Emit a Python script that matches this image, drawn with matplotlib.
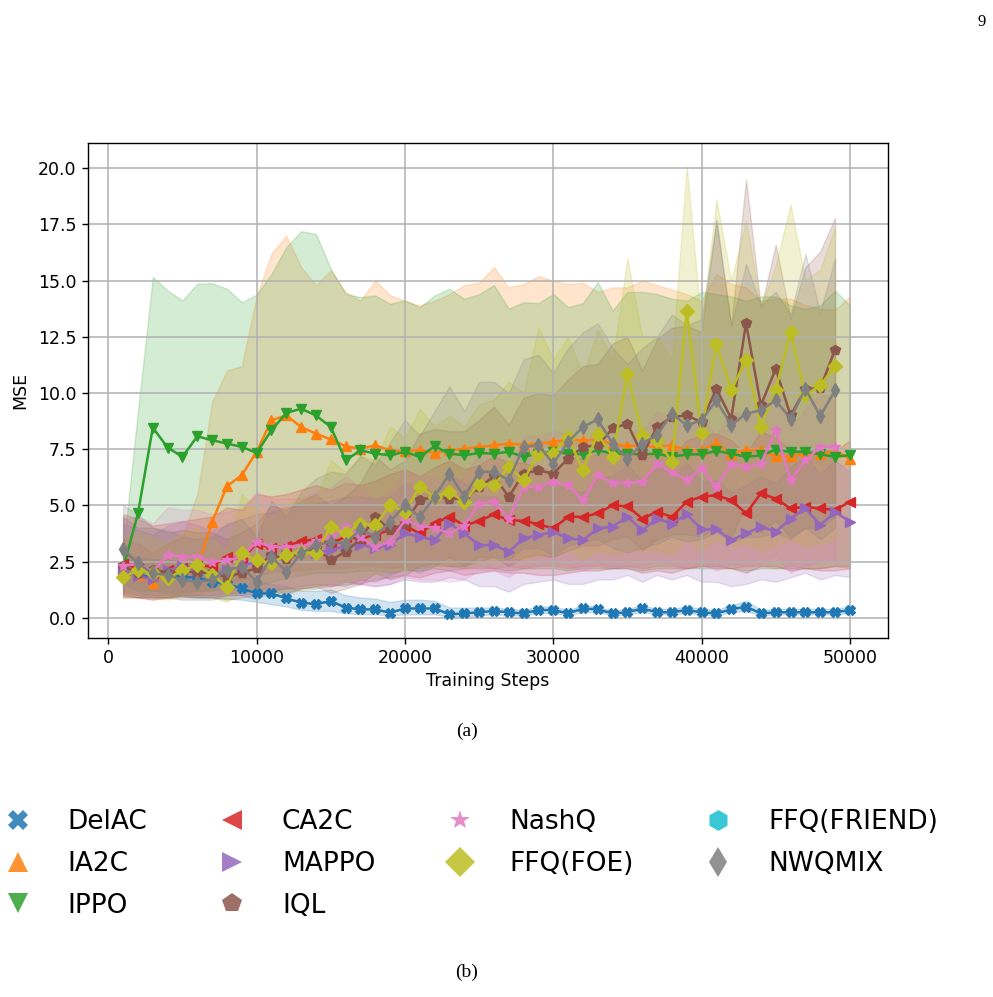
import numpy as np
import matplotlib
matplotlib.use("Agg")
import matplotlib.pyplot as plt
from matplotlib.lines import Line2D

# ---------------- data ----------------
steps50 = [1000 * k for k in range(1, 51)]
steps49 = [1000 * k for k in range(1, 50)]

delac_mean = [2.0,1.9,1.8,1.9,1.8,1.8,1.6,1.5,1.3,1.08, 1.08,0.86,0.67,0.6,0.74,0.45,0.37,0.37,0.22,0.41,
              0.41,0.41,0.15,0.19,0.24, 0.3,0.24,0.19,0.34,0.34, 0.19,0.41,0.37,0.19,0.24,
              0.41,0.24,0.24,0.34,0.24, 0.19,0.37,0.49,0.19,0.24, 0.24,0.24,0.24,0.24,0.34]
delac_lo = [1.2,1.1,1.0,1.0,0.95,0.9,0.9,0.85,0.8,0.7, 0.6,0.5,0.35,0.3,0.3,0.2,0.15,0.15,0.1,0.15,
            0.15,0.15,0.05,0.05,0.1, 0.15,0.1,0.1,0.2,0.2, 0.1,0.25,0.25,0.1,0.15,
            0.25,0.15,0.15,0.2,0.15, 0.1,0.25,0.3,0.1,0.15, 0.15,0.15,0.15,0.15,0.2]
delac_hi = [2.8,2.7,2.6,2.6,2.5,2.4,2.3,2.1,1.9,1.6, 1.5,1.4,1.2,1.2,1.25,1.0,0.9,0.85,0.7,0.8,
            0.8,0.75,0.45,0.45,0.45, 0.45,0.4,0.35,0.5,0.5, 0.35,0.55,0.5,0.3,0.4,
            0.55,0.4,0.4,0.5,0.4, 0.35,0.55,0.75,0.35,0.4, 0.4,0.4,0.4,0.4,0.5]

ia2c_mean = [2.0,1.9,1.55,2.0,2.2,2.2,4.27,5.85,6.34,7.38, 8.79,9.0,8.49,8.19,7.93,7.63,7.52,7.67,7.45,7.4,
             7.48,7.33,7.45,7.52,7.6, 7.67,7.75,7.7,7.75,7.82, 7.92,7.9,7.9,7.75,7.65,
             7.65,7.6,7.67,7.45,7.45, 7.78,7.3,7.48,7.45,7.18, 7.18,7.3,7.27,7.42,7.08]
ia2c_lo = [0.9,0.9,0.8,0.9,1.0,1.0,1.3,1.6,1.7,1.9, 2.0,2.1,2.1,2.2,2.2,2.2,2.3,2.3,2.2,2.3,
           2.2,2.3,2.3,2.2,2.3, 2.2,2.3,2.2,2.3,2.3, 2.2,2.3,2.3,2.2,2.3,
           2.2,2.3,2.3,2.2,2.3, 2.2,2.2,2.3,2.3,2.2, 2.3,2.2,2.2,2.3,2.2]
ia2c_hi = [3.5,3.3,2.9,3.3,3.6,5.5,9.6,11.0,11.2,14.3, 16.2,17.0,15.6,14.8,15.45,14.5,14.1,15.0,14.35,14.1,
           13.9,14.1,14.4,14.8,14.9, 15.6,14.7,14.85,15.2,15.0, 14.85,14.9,14.5,14.7,14.7,
           15.0,14.8,14.6,14.4,14.1, 15.3,14.85,14.7,14.1,14.2, 14.2,13.9,13.75,13.7,14.3]

ippo_mean = [2.2,4.64,8.46,7.57,7.16,8.07,7.9,7.75,7.6,7.33, 8.34,9.11,9.3,9.0,8.49,7.0,7.45,7.3,7.23,7.38,
             7.16,7.63,7.3,7.23,7.33, 7.3,7.38,7.16,7.3,7.38, 7.3,7.27,7.45,7.3,7.3,
             7.27,7.3,7.16,7.27,7.27, 7.42,7.3,7.16,7.22,7.48, 7.38,7.38,7.27,7.16,7.23]
ippo_lo = [1.5,1.2,1.2,1.1,1.1,1.2,1.2,1.3,1.3,1.4, 1.6,1.8,1.9,2.0,2.0,2.0,2.1,2.1,2.0,2.1,
           2.1,2.2,2.1,2.2,2.2, 2.2,2.1,2.2,2.2,2.2, 2.1,2.2,2.2,2.2,2.2,
           2.1,2.2,2.2,2.2,2.2, 2.2,2.2,2.1,2.2,2.2, 2.2,2.2,2.2,2.3,2.3]
ippo_hi = [3.0,9.2,15.16,14.56,14.12,14.86,14.89,14.64,14.04,14.38, 15.3,16.49,17.2,17.08,15.53,14.41,14.27,14.34,13.97,14.12,
           13.82,14.34,14.64,14.19,14.4, 14.8,13.75,14.04,14.0,14.41, 13.82,14.0,14.93,13.67,14.49,
           14.5,14.4,14.2,14.1,14.5, 14.4,14.3,14.1,14.3,14.3, 13.9,13.75,13.9,14.56,13.9]

ca2c_mean = [2.4,2.2,2.0,2.1,2.2,2.3,2.3,2.7,2.6,3.3, 3.1,3.2,3.4,3.5,3.3,3.6,3.5,3.7,3.9,4.1,
             3.75,4.2,4.5,4.1,4.3, 4.6,4.34,4.31,4.16,3.97, 4.49,4.49,4.64,5.0,4.96,
             4.41,4.71,4.49,5.16,5.38, 5.45,5.23,4.64,5.53,5.3, 4.86,4.93,4.86,4.79,5.16]
ca2c_lo = [1.0,0.9,0.9,0.9,1.0,1.0,1.0,1.1,1.1,1.3, 1.2,1.3,1.4,1.5,1.4,1.6,1.5,1.7,1.8,1.9,
           1.8,2.0,2.1,1.9,2.0, 2.1,2.0,2.0,1.9,1.9, 2.0,2.1,2.1,2.2,2.2,
           2.0,2.1,2.0,2.2,2.3, 2.3,2.2,2.0,2.3,2.3, 2.1,2.2,2.1,2.1,2.2]
ca2c_hi = [4.6,4.4,4.1,4.2,4.3,4.4,4.5,4.9,4.8,5.5, 5.4,5.5,5.7,5.9,5.7,6.0,5.9,6.1,6.4,6.6,
           6.3,6.7,7.0,6.6,6.8, 7.2,6.9,6.9,6.7,6.5, 7.1,7.1,7.3,7.7,7.6,
           7.0,7.4,7.1,7.9,8.1, 8.2,7.9,7.3,8.3,8.0, 7.5,7.6,7.5,7.4,7.9]

mappo_mean = [2.1,1.85,1.7,2.1,2.3,2.1,1.9,2.1,2.3,2.5, 2.6,2.8,2.86,2.9,3.0,3.2,3.23,3.12,3.23,3.75,
              3.6,3.45,4.19,3.75,3.23, 3.23,2.93,3.53,3.68,3.82, 3.53,3.45,3.97,4.05,4.49,
              3.9,4.41,4.19,4.6,3.93, 3.93,3.45,3.75,4.05,3.82, 4.41,4.86,4.12,4.71,4.27]
mappo_lo = [0.9,0.9,0.8,0.9,1.0,0.9,0.9,1.0,1.0,1.1, 1.2,1.3,1.3,1.3,1.4,1.5,1.5,1.4,1.5,1.7,
            1.6,1.6,1.8,1.7,1.4, 1.4,1.16,1.5,1.6,1.7, 1.5,1.5,1.7,1.7,1.9,
            1.6,1.9,1.7,1.9,1.6, 1.6,1.4,1.5,1.7,1.6, 1.8,2.0,1.7,1.9,1.8]
mappo_hi = [4.2,3.9,3.7,4.1,4.3,4.1,3.9,4.1,4.4,4.6, 4.7,4.9,5.0,5.1,5.2,5.4,5.4,5.3,5.4,6.0,
            5.8,5.6,6.4,6.0,5.4, 5.4,5.0,5.7,5.9,6.0, 5.7,5.6,6.2,6.3,6.8,
            6.1,6.7,6.4,6.9,6.1, 6.1,5.6,5.9,6.3,6.0, 6.7,7.2,6.4,7.0,6.5]

iql_mean = [2.3,2.0,2.1,2.0,2.1,2.0,2.0,1.8,2.0,2.2, 2.8,2.6,2.9,3.1,2.56,2.93,3.5,4.49,3.9,4.19,
            5.23,5.38,5.3,5.3,5.8, 6.3,5.38,6.41,6.56,6.41, 7.08,7.6,7.67,8.42,8.64,
            7.23,8.49,8.93,9.0,8.71, 10.19,8.86,13.11,9.45,11.08, 9.0,10.19,10.2,11.93]
iql_lo = [1.0,0.9,0.9,0.9,0.9,0.9,0.9,0.8,0.9,1.0, 1.2,1.1,1.3,1.4,1.1,1.3,1.5,2.0,1.7,1.9,
          2.3,2.4,2.3,2.3,2.5, 2.7,2.3,2.7,2.8,2.7, 3.0,3.2,3.2,3.5,3.6,
          3.0,3.5,3.7,3.7,3.6, 4.0,3.6,5.0,3.8,4.3, 3.6,4.0,4.0,4.5]
iql_hi = [4.5,4.0,4.0,3.8,3.9,3.8,3.8,3.5,3.8,4.2, 5.0,4.8,5.2,5.5,5.0,5.4,6.0,7.2,6.6,7.0,
          8.2,8.4,8.3,8.3,8.8, 9.4,8.6,9.8,10.0,9.9, 10.6,11.2,11.3,12.2,12.5,
          11.0,12.4,12.9,13.0,12.7, 17.7,13.0,19.5,13.8,16.6, 13.3,15.6,16.3,17.8]

nashq_mean = [2.3,2.4,2.05,2.79,2.7,2.7,2.49,2.56,2.7,3.38, 3.15,3.15,3.15,3.4,3.6,4.05,3.6,3.15,3.38,4.34,
              4.1,4.0,3.75,4.1,5.08, 5.16,4.41,5.82,5.82,6.04, 5.9,5.23,6.34,6.0,6.0,
              6.04,6.86,6.49,6.12,6.64, 5.82,6.86,6.71,6.86,8.34, 6.12,7.0,7.6,7.6]
nashq_lo = [1.0,1.0,0.9,1.1,1.1,1.1,1.0,1.0,1.1,1.4, 1.3,1.3,1.3,1.4,1.5,1.7,1.5,1.4,1.5,1.8,
            1.7,1.7,1.6,1.7,2.1, 2.1,1.8,2.3,2.3,2.4, 2.3,2.1,2.4,2.3,2.3,
            2.3,2.5,2.4,2.2,2.4, 2.1,2.4,2.3,2.4,2.8, 2.0,2.3,2.5,2.5]
nashq_hi = [4.4,4.5,4.2,4.9,4.8,4.8,4.6,4.7,4.9,5.6, 5.3,5.3,5.3,5.6,5.8,6.3,5.8,5.3,5.6,6.6,
            6.3,6.2,5.9,6.3,7.3, 7.4,6.6,8.1,8.1,8.3, 8.2,7.5,8.6,8.3,8.3,
            8.3,9.2,8.8,8.4,8.9, 8.1,9.2,9.0,9.2,10.8, 8.4,9.3,9.9,9.9]

foe_mean = [1.82,2.1,2.0,1.75,2.1,2.34,1.9,1.38,2.86,2.56, 2.42,2.79,2.93,2.86,4.05,3.75,4.19,4.12,5.0,4.71,
            5.82,5.38,5.6,5.16,5.97, 5.9,6.71,6.12,7.3,7.3, 8.04,6.56,8.19,7.16,10.83,
            8.12,7.9,6.93,13.67,8.22, 12.19,10.12,11.48,8.49,10.15, 12.71,9.9,10.34,11.19]
foe_lo = [0.9,1.0,0.9,0.8,1.0,1.0,0.9,0.7,1.2,1.1, 1.0,1.2,1.2,1.3,1.6,1.6,1.8,1.9,2.1,2.1,
          2.3,2.3,2.4,2.3,2.5, 2.5,2.7,2.6,2.8,2.8, 3.0,2.6,3.0,2.8,3.0,
          3.0,3.0,2.8,3.5,3.0, 3.5,3.2,3.3,3.0,3.2, 3.5,3.2,3.3,3.5]
foe_hi = [3.6,3.8,3.6,3.3,3.8,4.0,3.5,3.0,5.5,4.8, 4.5,5.0,5.4,5.3,7.0,6.5,7.2,7.0,8.5,8.0,
          9.3,8.5,9.0,8.5,9.5, 9.7,10.5,10.0,12.9,11.5, 12.5,10.8,12.8,11.5,16.0,
          12.5,12.5,11.5,20.1,13.0, 18.6,15.0,17.7,13.8,15.7, 18.4,15.0,15.5,17.4]

nwq_mean = [3.04,2.42,1.97,1.9,1.68,1.6,1.68,2.12,2.27,1.6, 2.71,2.05,2.86,3.23,3.38,3.3,3.93,3.6,4.27,5.0,
            4.49,5.38,6.41,5.38,6.49, 6.49,6.12,7.6,7.67,6.86, 7.82,8.49,8.82,7.75,7.08,
            7.75,8.12,9.08,8.56,8.79, 9.67,8.56,9.08,9.23,9.67, 8.86,10.19,8.97,10.12]
nwq_lo = [1.1,1.0,0.9,0.9,0.8,0.8,0.8,1.0,1.0,0.8, 1.2,1.0,1.3,1.4,1.5,1.4,1.7,1.6,1.9,2.2,
          2.0,2.3,2.7,2.3,2.7, 2.7,2.6,3.1,3.1,2.8, 3.2,3.4,3.5,3.1,2.9,
          3.1,3.3,3.6,3.4,3.5, 3.8,3.4,3.6,3.6,3.8, 3.5,4.0,3.5,4.0]
nwq_hi = [5.0,4.6,4.0,3.9,3.6,3.5,3.6,4.2,4.4,3.6, 5.2,4.5,5.6,6.2,6.5,6.4,7.2,6.8,7.8,8.8,
          8.1,9.2,10.3,9.2,10.5, 10.5,10.0,11.5,11.7,10.9, 12.0,12.7,13.1,12.0,11.3,
          12.0,12.5,13.5,13.0,13.3, 17.7,13.0,15.75,13.9,14.5, 13.5,16.2,13.6,16.0]

legend_labels = ["DelAC", "IA2C", "IPPO", "CA2C", "MAPPO", "IQL",
                 "NashQ", "FFQ(FOE)", "FFQ(FRIEND)", "NWQMIX"]
legend_colors = ["tab:blue", "tab:orange", "tab:green", "tab:red", "tab:purple",
                 "tab:brown", "tab:pink", "tab:olive", "tab:cyan", "tab:gray"]
legend_markers = ["X", "^", "v", "<", ">", "p", "*", "D", "h", "d"]

series = [
    ("DelAC", "tab:blue", "X", steps50, delac_mean, delac_lo, delac_hi),
    ("IA2C", "tab:orange", "^", steps50, ia2c_mean, ia2c_lo, ia2c_hi),
    ("IPPO", "tab:green", "v", steps50, ippo_mean, ippo_lo, ippo_hi),
    ("CA2C", "tab:red", "<", steps50, ca2c_mean, ca2c_lo, ca2c_hi),
    ("MAPPO", "tab:purple", ">", steps50, mappo_mean, mappo_lo, mappo_hi),
    ("IQL", "tab:brown", "p", steps49, iql_mean, iql_lo, iql_hi),
    ("NashQ", "tab:pink", "*", steps49, nashq_mean, nashq_lo, nashq_hi),
    ("FFQ(FOE)", "tab:olive", "D", steps49, foe_mean, foe_lo, foe_hi),
    ("NWQMIX", "tab:gray", "d", steps49, nwq_mean, nwq_lo, nwq_hi),
]

# ---------------- figure ----------------
fig = plt.figure(figsize=(9.93, 9.97), dpi=100)
ax = fig.add_axes([0.0883, 0.3604, 0.8055, 0.4965])

for name, color, marker, x, m, lo, hi in series:
    ax.plot(x, m, color=color, marker=marker, markersize=7, linewidth=1.8, label=name)
    ax.fill_between(x, lo, hi, color=color, alpha=0.2)

ax.set_xlim(-1390, 52540)
ax.set_ylim(-0.89, 21.14)
ax.set_yticks(np.arange(0, 20.01, 2.5))
ax.set_xticks(np.arange(0, 50001, 10000))
ax.grid(True, color="#b0b0b0", linewidth=1.1)
ax.tick_params(labelsize=12.5, length=4.5, width=1.0)
ax.set_xlabel("Training Steps", fontsize=12.5, labelpad=4)
ax.set_ylabel("MSE", fontsize=12.5, labelpad=6)
for s in ax.spines.values():
    s.set_linewidth(1.0)

# captions / page number
fig.text(0.470, 1 - 731 / 997, "(a)", ha="center", va="center",
         family="Liberation Serif", fontsize=14)
fig.text(0.470, 1 - 972 / 997, "(b)", ha="center", va="center",
         family="Liberation Serif", fontsize=14)
fig.text(0.993, 1 - 22 / 997, "9", ha="right", va="center",
         family="Liberation Serif", fontsize=12)

# legend panel (b)
handles = [Line2D([], [], color=c, marker=mk, linestyle="None", markersize=15,
                  markeredgewidth=0, alpha=0.85)
           for c, mk in zip(legend_colors, legend_markers)]
fig.legend(handles, legend_labels, ncol=4, loc="upper left",
           bbox_to_anchor=(4.8 / 993, 1 - 809 / 997), frameon=False,
           fontsize=19, handlelength=1.0, handletextpad=1.39,
           columnspacing=2.7, labelspacing=0.6, borderpad=0, borderaxespad=0)

fig.savefig("out.png", dpi=100)
